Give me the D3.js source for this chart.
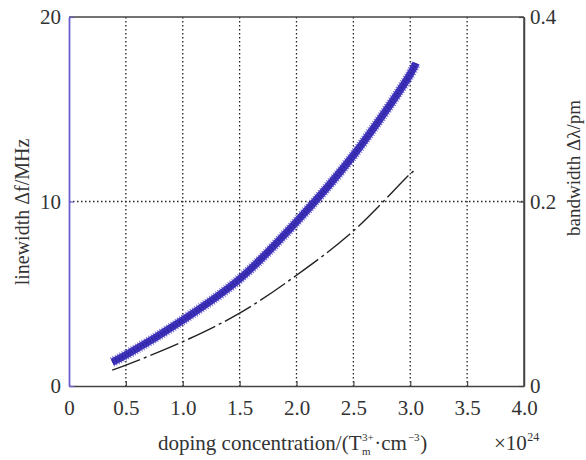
<!DOCTYPE html>
<html><head><meta charset="utf-8">
<script src="https://cdn.jsdelivr.net/npm/d3@7"></script>
<style>body{margin:0;background:#fff}svg{display:block}
svg text{font-family:"Liberation Serif","DejaVu Serif","Times New Roman",serif;fill:#333}</style>
</head><body>
<svg id="c" width="586" height="460"></svg>
<script>
// Data
const xTicks = [0, 0.5, 1.0, 1.5, 2.0, 2.5, 3.0, 3.5, 4.0];
const xTickLabels = ["0", "0.5", "1.0", "1.5", "2.0", "2.5", "3.0", "3.5", "4.0"];
const yLeftTicks = [0, 10, 20];
const yRightTicks = [0, 0.2, 0.4];
const yRightTickLabels = ["0", "0.2", "0.4"];
// linewidth (MHz) vs doping concentration (x10^24)
const linewidthX = [0.38, 0.5, 1.0, 1.5, 2.0, 2.5, 3.0, 3.05];
const linewidthY = [1.3, 1.68, 3.57, 5.8, 8.9, 12.5, 16.9, 17.5];
// bandwidth (pm) vs doping concentration
const bandwidthX = [0.38, 0.5, 1.0, 1.5, 2.0, 2.5, 3.0, 3.04];
const bandwidthY = [0.0172, 0.0226, 0.048, 0.079, 0.12, 0.168, 0.23, 0.234];

const svg = d3.select("#c");
const L = 69, R = 524, T = 17, B = 386;
const x = d3.scaleLinear().domain([0, 4]).range([L, R]);
const yL = d3.scaleLinear().domain([0, 20]).range([B, T]);
const yR = d3.scaleLinear().domain([0, 0.4]).range([B, T]);

// grid
const g = svg.append("g");
g.selectAll("line.vx").data(xTicks.slice(1, -1)).join("line")
  .attr("x1", d => x(d)).attr("x2", d => x(d)).attr("y1", T).attr("y2", B)
  .attr("stroke", "#222").attr("stroke-width", 1.3).attr("stroke-dasharray", "1.5,2.5");
g.append("line").attr("x1", L).attr("x2", R).attr("y1", yL(10)).attr("y2", yL(10))
  .attr("stroke", "#222").attr("stroke-width", 1.3).attr("stroke-dasharray", "1.5,2.5");

// frame
svg.append("line").attr("x1", L).attr("x2", R).attr("y1", T).attr("y2", T).attr("stroke", "#444").attr("stroke-width", 1.5);
svg.append("line").attr("x1", R).attr("x2", R).attr("y1", T).attr("y2", B).attr("stroke", "#444").attr("stroke-width", 1.5);

// axes
const axB = d3.axisBottom(x).tickValues(xTicks).tickFormat((d, i) => xTickLabels[i]).tickSizeInner(-5).tickSizeOuter(0).tickPadding(14);
const gB = svg.append("g").attr("transform", `translate(0,${B})`).call(axB);
const axL = d3.axisLeft(yL).tickValues(yLeftTicks).tickFormat(d3.format("d")).tickSizeInner(-5).tickSizeOuter(0).tickPadding(8);
const gL = svg.append("g").attr("transform", `translate(${L},0)`).call(axL);
const axR = d3.axisRight(yR).tickValues(yRightTicks).tickFormat((d, i) => yRightTickLabels[i]).tickSizeInner(-5).tickSizeOuter(0).tickPadding(6);
const gR = svg.append("g").attr("transform", `translate(${R},0)`).call(axR);
[gB, gL, gR].forEach(a => {
  a.attr("font-family", null).attr("font-size", null);
  a.selectAll(".domain").attr("stroke", "#444").attr("stroke-width", 1.5);
  a.selectAll(".tick line").attr("stroke", "#444").attr("stroke-width", 1.2);
  a.selectAll("text").style("font-size", "21px").attr("fill", "#333");
});
gL.select(".domain").attr("stroke", "#6a5fd0").attr("stroke-width", 1.8);
gL.selectAll(".tick line").attr("stroke", "#6a5fd0");
gB.selectAll(".tick").filter(d => d === 0 || d === 4).select("line").remove();

// bandwidth (dash-dot black)
const lineR = d3.line().x((d, i) => x(bandwidthX[i])).y(d => yR(d)).curve(d3.curveCatmullRom.alpha(0.5));
svg.append("path").attr("d", lineR(bandwidthY)).attr("fill", "none")
  .attr("stroke", "#222").attr("stroke-width", 1.4).attr("stroke-dasharray", "30,4,3,4");

// linewidth (thick blue with cross texture)
const lineL = d3.line().x((d, i) => x(linewidthX[i])).y(d => yL(d)).curve(d3.curveCatmullRom.alpha(0.5));
svg.append("path").attr("d", lineL(linewidthY)).attr("fill", "none")
  .attr("stroke", "#3a2db4").attr("stroke-width", 7.5);
svg.append("path").attr("d", lineL(linewidthY)).attr("fill", "none")
  .attr("stroke", "#4a3fc8").attr("stroke-width", 10.5).attr("stroke-dasharray", "1,1.6").attr("opacity", 0.75);
svg.append("path").attr("d", lineL(linewidthY)).attr("fill", "none")
  .attr("stroke", "#2a1f9a").attr("stroke-width", 3).attr("stroke-dasharray", "2,1.5").attr("opacity", 0.6);

// axis titles
svg.append("text").attr("transform", `translate(29,212) rotate(-90)`).attr("text-anchor", "middle")
  .style("font-size", "20px").text("linewidth Δf/MHz");
svg.append("text").attr("transform", `translate(580,168) rotate(-90)`).attr("text-anchor", "middle")
  .style("font-size", "19px").text("bandwidth Δλ/pm");

// x title built from pieces
const baseY = 450;
let cx = 158;
function piece(txt, size, dy) {
  const t = svg.append("text").attr("x", cx).attr("y", baseY + dy).style("font-size", size + "px").text(txt);
  const w = t.node().getComputedTextLength();
  return { t, w };
}
let p = piece("doping concentration/(T", 21, 0); cx += p.w + 0.5;
const sup = piece("3+", 11, -9);
const sub = piece("m", 11, 5);
cx += Math.max(sup.w, sub.w) + 0.5;
p = piece("·cm", 21, 0); cx += p.w + 1;
p = piece("−3", 11, -9); cx += p.w + 0.5;
p = piece(")", 21, 0);

cx = 494;
p = piece("×10", 21, 0); cx += p.w + 0.5;
piece("24", 12, -9);
</script>
</body></html>
